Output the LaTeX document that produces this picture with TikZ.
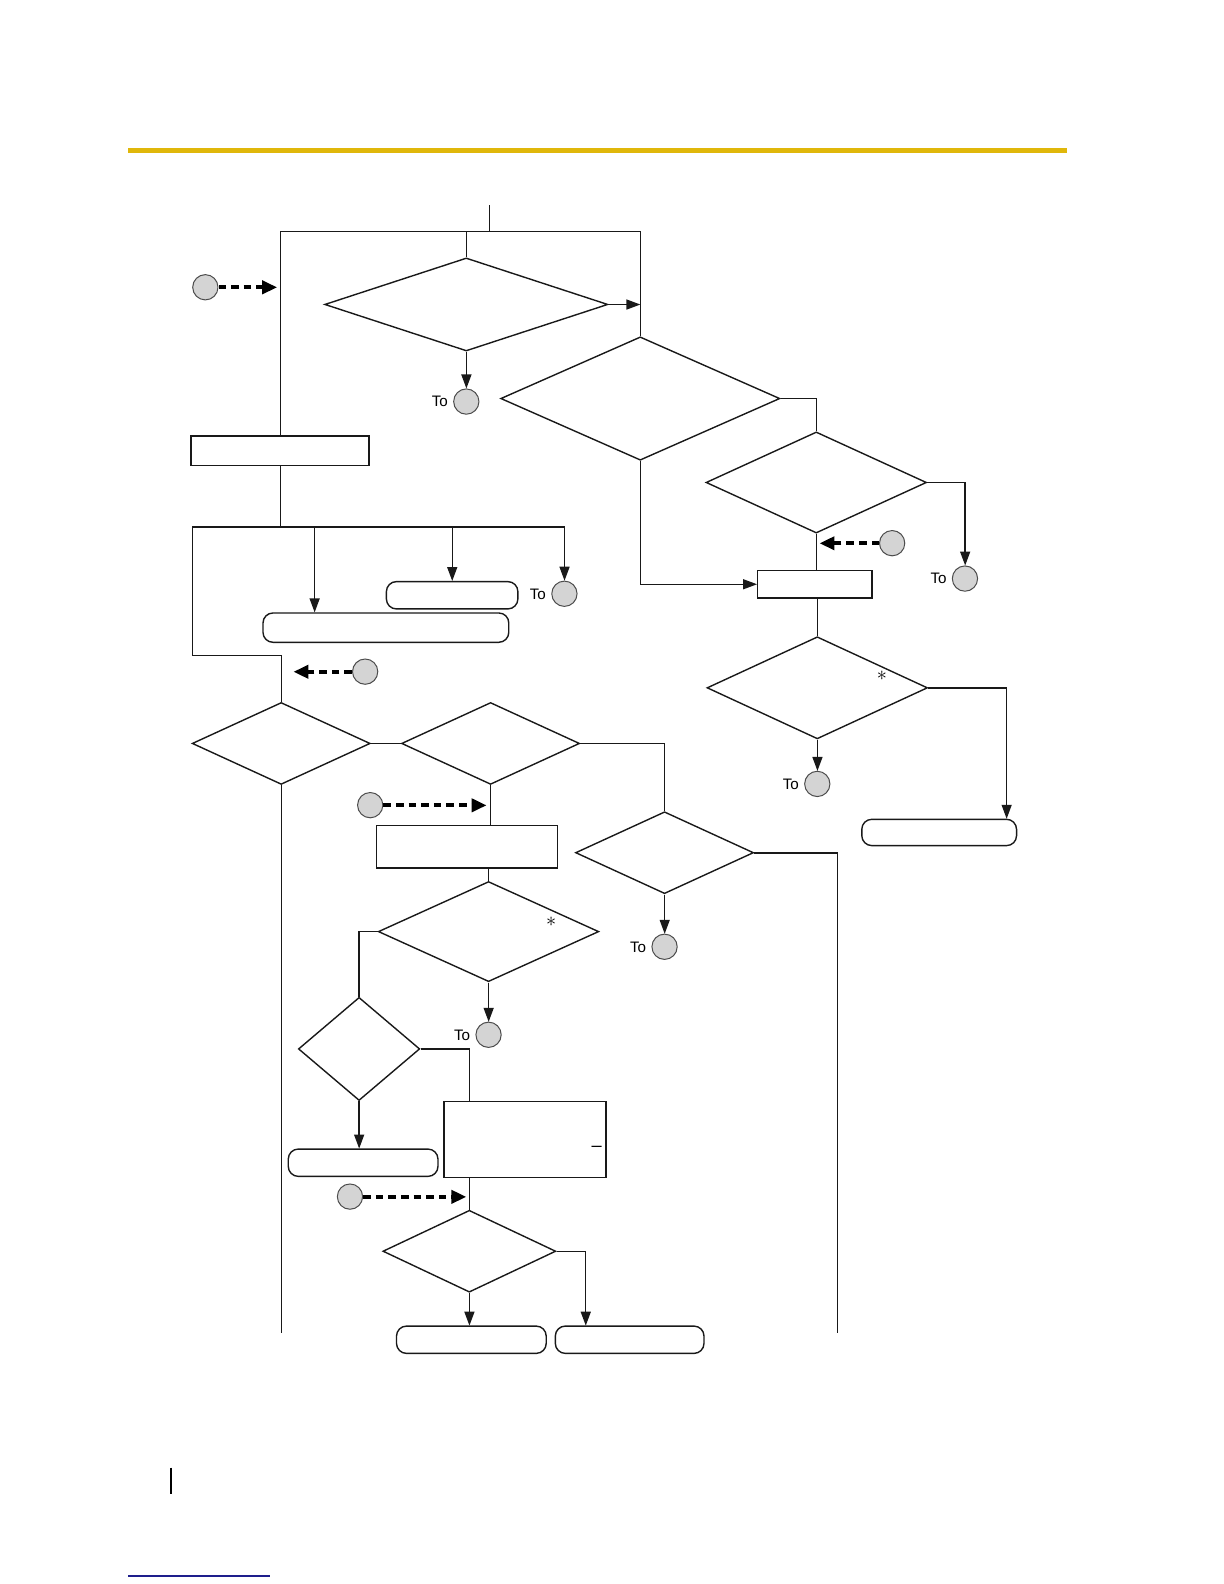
\documentclass[tikz,border=0pt]{standalone}
\usepackage{fontspec}
\setmainfont{Liberation Sans}
\usetikzlibrary{shapes.geometric,arrows.meta}
\definecolor{barYellow}{RGB}{224,183,10}
\definecolor{navyLine}{RGB}{30,30,140}
\begin{document}
\begin{tikzpicture}[x=0.5pt,y=-0.5pt,scale=1.0115,every node/.append style={transform shape},
  ln/.style={draw=black!90,line width=0.7pt},
  arr/.style={ln,-{Triangle[length=7pt,width=5pt]}},
  dasharr/.style={draw=black,line width=2pt,dash pattern=on 3.8pt off 2.5pt,-{Triangle[length=7.5pt,width=6.5pt]}},
  dia/.style={draw=black!90,line width=0.7pt,shape=diamond,inner sep=0pt},
  box/.style={draw=black!90,line width=0.7pt,rectangle,inner sep=0pt},
  rbox/.style={box,rounded corners=5pt},
  conn/.style={circle,draw=black!70,fill=black!17,line width=0.5pt,minimum size=12.5pt,inner sep=0pt},
  tolab/.style={font=\fontsize{7.5}{9}\selectfont,anchor=east,inner sep=1pt},
  star/.style={font=\fontsize{10}{10}\selectfont,inner sep=0pt}]
\useasboundingbox (0,0) rectangle (1210.1,1566.0);
% page decorations
\fill[barYellow] (127,146) rectangle (1055,151);
\draw[navyLine,line width=0.8pt] (127,1558) -- (267,1558);
\draw[black,line width=0.8pt] (169,1451) -- (169,1477);

% diamonds
\node[dia,minimum width=140pt,minimum height=46pt] (D1) at (461,301) {};
\node[dia,minimum width=138pt,minimum height=61pt] (D2) at (633,394) {};
\node[dia,minimum width=109pt,minimum height=50pt] (D9) at (807,477) {};
\node[dia,minimum width=109pt,minimum height=50.5pt] (D10) at (808,680) {};
\node[dia,minimum width=88pt,minimum height=40.5pt] (D3) at (278,735) {};
\node[dia,minimum width=88pt,minimum height=40.5pt] (D4) at (485,735) {};
\node[dia,minimum width=88pt,minimum height=40.5pt] (D5) at (657,843) {};
\node[dia,minimum width=109pt,minimum height=49.5pt] (D6) at (483,921) {};
\node[dia,minimum width=60pt,minimum height=51pt] (D7) at (355,1037) {};
\node[dia,minimum width=85.5pt,minimum height=40.5pt] (D8) at (464,1237) {};

% rectangles
\node[box,minimum width=88pt,minimum height=14.5pt] (R1) at (277,445.5) {};
\node[box,minimum width=89.5pt,minimum height=21pt] (R2) at (461.5,837) {};
\node[box,minimum width=80pt,minimum height=37.5pt] (R3) at (519,1126.5) {};
\node[box,minimum width=56.5pt,minimum height=13.5pt] (R4) at (805.5,577.5) {};

% rounded boxes
\node[rbox,minimum width=65pt,minimum height=13.5pt] (RB1) at (447,588.5) {};
\node[rbox,minimum width=121.5pt,minimum height=14.5pt] (RB2) at (381.5,620.5) {};
\node[rbox,minimum width=74pt,minimum height=13.5pt] (RB3) at (359,1149.5) {};
\node[rbox,minimum width=74pt,minimum height=13.5pt] (RB4) at (466,1324.5) {};
\node[rbox,minimum width=73.5pt,minimum height=13.5pt] (RB5) at (622.5,1324.5) {};
\node[rbox,minimum width=76.5pt,minimum height=13pt] (RB6) at (928.5,823) {};

% connectors (circles)
\node[conn] (Cin1) at (203,284) {};
\node[conn] (Cin2) at (361,664) {};
\node[conn] (Cin3) at (366,796) {};
\node[conn] (Cin4) at (346,1183) {};
\node[conn] (Cin5) at (882,537) {};
\node[conn] (Cto1) at (461,397) {};
\node[conn] (Cto2) at (558,587) {};
\node[conn] (Cto3) at (483,1023) {};
\node[conn] (Cto4) at (657,936) {};
\node[conn] (Cto5) at (954,572) {};
\node[conn] (Cto6) at (808,775) {};
\foreach \c/\n in {Cto1/T1,Cto2/T2,Cto3/T3,Cto4/T4,Cto5/T5,Cto6/T6}
  \node[tolab] (\n) at ([xshift=-1.5pt]\c.west) {To};

% marks
\node[star] (S1) at (545,911) {$\ast$};
\node[star] (S2) at (872,668) {$\ast$};
\node[font=\fontsize{9}{9}\selectfont,inner sep=0pt] (dashmark) at (590,1136) {\textendash};

% coordinates
\coordinate (topin) at (484,203);
\coordinate (bar) at (0,229);
\coordinate (J1) at (277,521);
\coordinate (b1) at (311,521);
\coordinate (jl) at (190,521);
\coordinate (L1) at (190,648);
\coordinate (e1) at (274,284);
\coordinate (e2) at (290,664);
\coordinate (e3) at (481,796);
\coordinate (e4) at (461,1183);
\coordinate (e5) at (810,537);
\coordinate (end1) at (278,1318);
\coordinate (k1) at (828,843);
\coordinate (end2) at (828,1318);
\coordinate (k5) at (579,1237);
\coordinate (k6) at (995,680);

% top section
\draw[ln] (topin) -- (topin |- bar);
\draw[ln] (R1.north) -- (R1.north |- bar) -- (D2.north |- bar) -- (D2.north);
\draw[ln] (D1.north) -- (D1.north |- bar);
\draw[arr] (D1.east) -- (D1.east -| D2.north);
\draw[arr] (D1.south) -- (Cto1.north);
\draw[dasharr] (Cin1.east) -- (e1);

% left branch
\draw[ln] (R1.south) -- (J1);
\draw[arr] (J1) -| (Cto2.north);
\draw[arr] (RB1.north |- J1) -- (RB1.north);
\draw[arr] (b1) -- (b1 |- RB2.north);
\draw[ln] (J1) -- (jl) -- (L1) -| (D3.north);
\draw[dasharr] (Cin2.west) -- (e2);
\draw[ln] (D3.east) -- (D4.west);
\draw[ln] (D3.south) -- (end1);
\draw[ln] (D4.east) -| (D5.north);
\draw[ln] (D4.south) -- (D4.south |- R2.north);
\draw[dasharr] (Cin3.east) -- (e3);
\draw[ln] (D6.north |- R2.south) -- (D6.north);
\draw[arr] (D6.south) -- (Cto3.north);
\draw[ln] (D6.west) -| (D7.north);
\draw[arr] (D7.south) -- (D7.south |- RB3.north);
\draw[ln] (D7.east) -| (D8.north |- R3.north);
\draw[ln] (D8.north |- R3.south) -- (D8.north);
\draw[dasharr] (Cin4.east) -- (e4);
\draw[arr] (D8.south) -- (D8.south |- RB4.north);
\draw[arr] (D8.east) -- (k5) -- (k5 |- RB5.north);
\draw[arr] (D5.south) -- (Cto4.north);
\draw[ln] (D5.east) -- (k1) -- (end2);

% right branch
\draw[ln] (D2.east) -| (D9.north);
\draw[arr] (D9.east) -| (Cto5.north);
\draw[ln] (D9.south) -- (D9.south |- R4.north);
\draw[dasharr] (Cin5.west) -- (e5);
\draw[arr] (D2.south) |- (R4.west);
\draw[ln] (R4.south -| D10.north) -- (D10.north);
\draw[arr] (D10.south) -- (Cto6.north);
\draw[arr] (D10.east) -- (k6) -- (k6 |- RB6.north);
\end{tikzpicture}
\end{document}
